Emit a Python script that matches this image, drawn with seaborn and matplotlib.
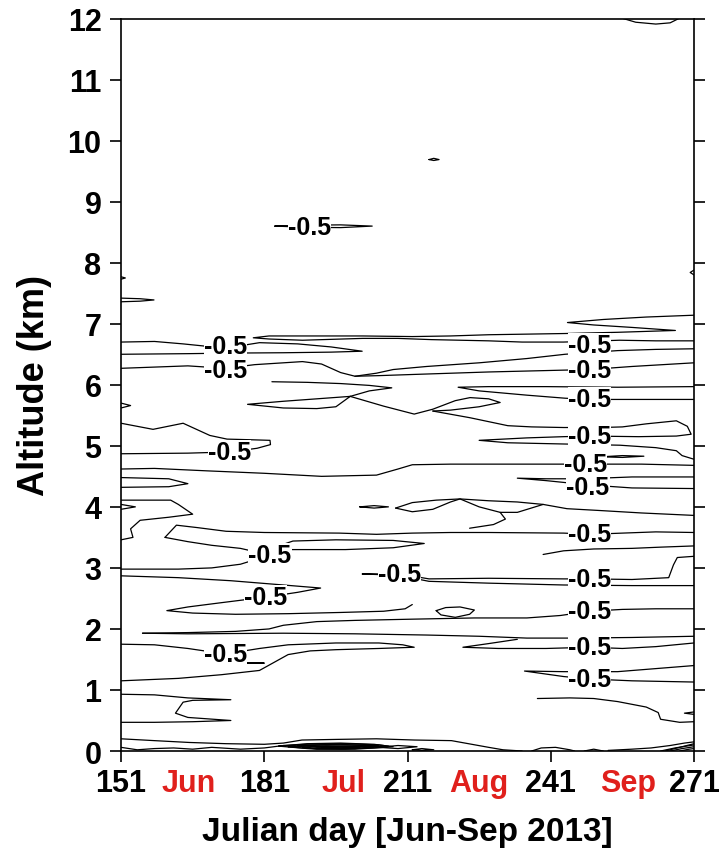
import matplotlib
matplotlib.use("Agg")
import matplotlib.pyplot as plt
import pandas as pd
import seaborn as sns

# contour lines of the -0.5 level as (julian day, altitude km)
top_cap = [(256.2, 12.0), (258.8, 11.94), (263.0, 11.91), (266.0, 11.93), (267.8, 12.0)]
dot_97 = [(215.5, 9.69), (216.5, 9.71), (217.6, 9.69), (216.5, 9.675), (215.5, 9.69)]
lens_86 = [(183.2, 8.60), (190, 8.615), (197, 8.62), (203.6, 8.60), (197, 8.575), (190, 8.58), (183.2, 8.60)]
nub_left_77 = [(151, 7.77), (151.9, 7.75), (151, 7.73)]
nub_right_78 = [(271, 7.88), (270.2, 7.84), (271, 7.80)]
lens_left_74 = [(151, 7.42), (155, 7.41), (157.9, 7.39), (155, 7.37), (151, 7.36)]

band_68 = [(271, 6.72), (263, 6.72), (255.4, 6.73), (243.7, 6.70), (235, 6.70), (228, 6.72), (216, 6.74),
           (209, 6.76), (201.6, 6.76), (189, 6.73), (182, 6.75), (178.7, 6.77), (182, 6.80), (190, 6.80),
           (201.6, 6.80), (212, 6.79), (220, 6.80), (228, 6.82), (236, 6.83), (244, 6.84), (255, 6.86),
           (267.1, 6.89), (258, 6.94), (250, 6.98), (244.5, 7.02), (252, 7.07), (261, 7.11), (271, 7.14)]
band_66 = [(151, 6.70), (158, 6.71), (164, 6.67), (172.8, 6.60), (180, 6.69), (188, 6.67), (195, 6.62),
           (201.5, 6.55), (195, 6.535), (185, 6.525), (175, 6.52), (165, 6.51), (151, 6.50)]
line_63 = [(151, 6.27), (158, 6.29), (165, 6.31), (172.8, 6.27), (179, 6.33), (189, 6.38), (193, 6.34),
           (197, 6.20), (200, 6.14), (204.5, 6.19), (208, 6.25), (215, 6.30), (226, 6.36), (236, 6.43),
           (244, 6.50), (255, 6.56), (263, 6.58), (271, 6.59)]
line_62 = [(200, 6.14), (205, 6.15), (212.5, 6.17), (228, 6.21), (243.7, 6.24), (249.2, 6.25), (258, 6.30), (271, 6.36)]

m_top = [(199, 5.81), (203, 5.90), (207.7, 5.95), (203, 5.99), (197, 6.02), (190, 6.04), (182.6, 6.05)]
m_left = [(199, 5.81), (192, 5.77), (185, 5.73), (177.5, 5.68), (185, 5.62), (192, 5.61), (196, 5.64), (199, 5.81)]
m_right = [(199, 5.81), (206, 5.65), (212.4, 5.52), (216.3, 5.60), (221, 5.74), (224.1, 5.79), (228, 5.77),
           (230.4, 5.71), (226, 5.64), (220, 5.585), (216.3, 5.57)]
line_e = [(216.3, 5.57), (224.1, 5.46), (232, 5.33), (237, 5.31), (243.7, 5.30), (251.6, 5.30), (256, 5.31),
          (261, 5.36), (267.3, 5.41), (269.6, 5.32), (270.4, 5.19), (267.3, 5.16), (259.4, 5.15),
          (249.2, 5.16), (243.7, 5.15), (236, 5.13), (226, 5.09), (232, 5.05), (243.7, 5.03), (255.5, 5.01),
          (263, 4.97), (267.3, 4.92), (268.5, 4.84), (271, 4.78)]
line_60 = [(271, 5.97), (255, 5.96), (240, 5.97), (228, 5.97), (221.6, 5.96), (226, 5.90), (236, 5.83),
           (244, 5.78), (249.2, 5.76), (258, 5.76), (271, 5.76)]

line_a = [(151, 5.37), (157.7, 5.27), (164, 5.37), (169.6, 5.17), (173.2, 5.11), (178, 5.10), (182.2, 5.09),
          (182.3, 5.02), (179.5, 4.96), (173.8, 4.90), (165, 4.88), (151, 4.87)]
nub_57 = [(151, 5.70), (153, 5.66), (151, 5.62)]
line_b = [(151, 4.62), (158, 4.63), (169, 4.59), (181, 4.55), (193, 4.50), (204.5, 4.52), (209, 4.62),
          (212, 4.69), (220, 4.70), (236, 4.70), (248.2, 4.70), (260, 4.70), (271, 4.68)]
lens_c = [(151, 4.48), (161, 4.46), (165, 4.38), (161, 4.33), (151, 4.32)]
lens_48 = [(251.6, 4.82), (256, 4.84), (260.5, 4.83), (256, 4.81), (251.6, 4.82)]
band_f = [(271, 4.49), (258, 4.49), (248, 4.46), (240, 4.46), (234, 4.47), (240, 4.43), (248.8, 4.36),
          (258, 4.31), (271, 4.30)]

line_d = [(151, 4.11), (158, 4.11), (161.4, 4.11), (163, 4.04), (166, 3.88), (161, 3.83), (155, 3.78),
          (153, 3.64), (153.5, 3.50), (151, 3.46)]
nub_40 = [(151, 4.04), (154, 4.00), (151, 3.96)]
lens_40 = [(201, 4.00), (204, 4.02), (207, 4.00), (204, 3.98), (201, 4.00)]
line_39 = [(208.5, 3.98), (212, 3.92), (216.3, 3.96), (220, 4.08), (222, 4.13), (226, 4.00), (230.4, 3.91),
           (234, 3.91), (239.4, 4.04), (244.4, 3.97), (251.3, 3.94), (260, 3.90), (271, 3.86)]
line_41 = [(208.5, 3.98), (212, 4.07), (217, 4.11), (222, 4.13), (228, 4.10), (234, 4.08), (239.4, 4.04)]
line_37 = [(230.4, 3.91), (231.5, 3.80), (229, 3.71), (224, 3.65)]
line_36 = [(160.2, 3.50), (162.6, 3.70), (167, 3.66), (173, 3.60), (181, 3.58), (196.7, 3.57), (204.5, 3.55),
           (212, 3.57), (220, 3.58), (228, 3.58), (243.7, 3.57), (249.2, 3.55), (256, 3.57), (263, 3.59),
           (271, 3.58)]
line_32 = [(160.2, 3.50), (165, 3.43), (170, 3.37), (176, 3.32), (182.2, 3.21), (176, 3.06), (170, 3.00),
           (163, 2.98), (151, 2.98)]
lens_34 = [(184, 3.30), (198, 3.30), (208, 3.33), (214.5, 3.40), (208, 3.45), (196, 3.46), (187, 3.44),
           (184, 3.36), (184, 3.30)]
line_33 = [(239.4, 3.22), (243.7, 3.28), (250, 3.31), (258, 3.32), (264, 3.34), (271, 3.36)]
band_28 = [(271, 3.19), (267.5, 3.17), (266.7, 3.05), (265.7, 2.84), (258, 2.81), (249.2, 2.82),
           (243.7, 2.82), (228, 2.83), (215.5, 2.82), (209.4, 2.90), (201.5, 2.90), (209, 2.88),
           (215.5, 2.78), (228, 2.75), (243.7, 2.72), (258, 2.71), (271, 2.71)]
lens_26 = [(151, 2.87), (163, 2.84), (174, 2.79), (185, 2.72), (192.8, 2.67), (188, 2.60), (181.2, 2.52),
           (172, 2.43), (165, 2.36), (160.6, 2.30), (166, 2.26), (175, 2.24), (186, 2.25), (197, 2.27),
           (206, 2.29), (210.5, 2.33), (212, 2.40)]
lens_23 = [(217, 2.30), (219, 2.35), (222, 2.36), (225, 2.31), (224, 2.24), (221, 2.19), (218, 2.23), (217, 2.30)]

line_21 = [(155.5, 1.93), (165, 1.94), (175, 1.96), (182, 2.00), (185, 2.06), (192, 2.12), (200, 2.14),
           (212, 2.16), (225, 2.18), (236, 2.18), (243, 2.22), (249.2, 2.29), (256, 2.32), (263, 2.33), (271, 2.33)]
line_19 = [(155.5, 1.93), (165, 1.92), (175, 1.925), (185, 1.93), (200, 1.92), (215, 1.90), (226, 1.88),
           (236, 1.85), (246, 1.85), (258, 1.86), (271, 1.88)]
line_17 = [(234, 1.83), (228, 1.76), (222.6, 1.70), (230, 1.68), (240, 1.68), (249.2, 1.70), (256, 1.68),
           (263, 1.71), (271, 1.77)]
line_16 = [(151, 1.75), (158, 1.74), (165, 1.68), (172.8, 1.59), (180, 1.68), (186, 1.74), (196, 1.77),
           (205, 1.77), (210, 1.74), (212.4, 1.70), (205, 1.68), (196, 1.66), (190.6, 1.64), (186, 1.58),
           (183, 1.45), (180, 1.32), (172, 1.25), (163, 1.19), (151, 1.15)]
lens_14 = [(169.7, 1.455), (175, 1.45), (181, 1.44), (175, 1.435), (169.7, 1.455)]
band_12 = [(271, 1.40), (263, 1.35), (255, 1.30), (243.7, 1.30), (235.5, 1.31), (243.7, 1.22), (249.2, 1.18),
           (258, 1.15), (271, 1.13)]
line_08 = [(238.2, 0.86), (245, 0.87), (250, 0.86), (255, 0.81), (261, 0.72), (263.5, 0.63), (264, 0.52),
           (268, 0.47), (271, 0.48)]
nub_06 = [(271, 0.64), (269, 0.62), (271, 0.60)]
line_left_07 = [(151, 0.93), (158, 0.92), (165, 0.87), (174, 0.84), (166, 0.83), (164, 0.80), (162.4, 0.62),
                (165, 0.55), (174, 0.50), (166, 0.48), (158, 0.47), (151, 0.47)]

line_02 = [(151, 0.20), (158, 0.17), (165.3, 0.14), (173, 0.12), (181, 0.11), (185, 0.13), (188.9, 0.18),
           (196, 0.19), (204.5, 0.20), (212.4, 0.18), (220.2, 0.17), (228, 0.06), (231, 0.02), (235, 0.0)]
wave_00 = [(151, 0.06), (154.4, 0.02), (158, 0.04), (162, 0.05), (166, 0.03), (170, 0.06), (176, 0.03),
           (181, 0.05), (184, 0.08)]
blk_1 = [(184, 0.08), (190, 0.12), (197, 0.13), (204, 0.11), (208, 0.07), (204, 0.05), (197, 0.04), (190, 0.04), (184, 0.08)]
blk_2 = [(186, 0.07), (191, 0.10), (197, 0.11), (202, 0.09), (206, 0.06), (200, 0.03), (192, 0.03), (186, 0.07)]
blk_3 = [(189, 0.06), (194, 0.085), (200, 0.08), (204, 0.06), (198, 0.03), (192, 0.035), (189, 0.06)]
blk_4 = [(193, 0.055), (197, 0.07), (201, 0.06), (197, 0.04), (193, 0.055)]
blk_5 = [(185, 0.09), (191, 0.115), (198, 0.12), (205, 0.10), (207, 0.08), (200, 0.06), (192, 0.06), (185, 0.09)]
blk_6 = [(188, 0.09), (195, 0.10), (202, 0.095), (205, 0.08), (198, 0.07), (191, 0.075), (188, 0.09)]
lens_01a = [(205, 0.06), (209, 0.09), (213, 0.07), (209, 0.04), (205, 0.06)]
lens_01b = [(212, 0.02), (214, 0.04), (216.5, 0.02), (214, 0.01), (212, 0.02)]
wave_br1 = [(237, 0.0), (239, 0.05), (242, 0.06), (245, 0.02), (246, 0.0)]
wave_br2 = [(248, 0.0), (250, 0.03), (252, 0.0)]
wave_br3 = [(253, 0.01), (258, 0.03), (262, 0.05), (266, 0.09), (269, 0.13), (271, 0.15)]
corner_1 = [(264, 0.0), (267, 0.05), (271, 0.10)]
corner_2 = [(266, 0.0), (268.5, 0.04), (271, 0.07)]
corner_3 = [(268, 0.0), (270, 0.03), (271, 0.04)]
corner_4 = [(265, 0.0), (268, 0.06), (271, 0.12)]

# contour label positions
label_days = [190.5, 172.8, 172.8, 173.8, 182.2, 181.2, 172.8, 209.4, 249.2, 249.2, 249.2, 249.2,
              248.2, 248.8, 249.2, 249.2, 249.2, 249.2, 249.2]
label_kms = [8.59, 6.63, 6.25, 4.90, 3.21, 2.52, 1.59, 2.90, 6.66, 6.25, 5.76, 5.16,
             4.71, 4.33, 3.55, 2.82, 2.29, 1.70, 1.18]

x_ticks = [151, 181, 211, 241, 271]
month_days = [165.1, 197.5, 226, 257.2]
month_names = ["Jun", "Jul", "Aug", "Sep"]

contours = {
    "top_cap": top_cap, "dot_97": dot_97, "lens_86": lens_86, "nub_left_77": nub_left_77,
    "nub_right_78": nub_right_78, "lens_left_74": lens_left_74, "band_68": band_68, "band_66": band_66,
    "line_63": line_63, "line_62": line_62, "m_top": m_top, "m_left": m_left, "m_right": m_right,
    "line_e": line_e, "line_60": line_60, "line_a": line_a, "nub_57": nub_57, "line_b": line_b,
    "lens_c": lens_c, "lens_48": lens_48, "band_f": band_f, "line_d": line_d, "nub_40": nub_40,
    "lens_40": lens_40, "line_39": line_39, "line_41": line_41, "line_37": line_37, "line_36": line_36,
    "line_32": line_32, "lens_34": lens_34, "line_33": line_33, "band_28": band_28, "lens_26": lens_26,
    "lens_23": lens_23, "line_21": line_21, "line_19": line_19, "line_17": line_17, "line_16": line_16,
    "lens_14": lens_14, "band_12": band_12, "line_08": line_08, "nub_06": nub_06,
    "line_left_07": line_left_07, "line_02": line_02, "wave_00": wave_00, "blk_1": blk_1, "blk_2": blk_2,
    "blk_3": blk_3, "blk_4": blk_4, "blk_5": blk_5, "blk_6": blk_6, "lens_01a": lens_01a,
    "lens_01b": lens_01b, "wave_br1": wave_br1, "wave_br2": wave_br2, "wave_br3": wave_br3,
    "corner_1": corner_1, "corner_2": corner_2, "corner_3": corner_3, "corner_4": corner_4,
}

rows = []
for name, pts in contours.items():
    for d, k in pts:
        rows.append((name, d, k))
df = pd.DataFrame(rows, columns=["line", "day", "km"])

sns.set_theme(style="ticks")
plt.rcParams["font.family"] = ["Liberation Sans", "DejaVu Sans"]
plt.rcParams["font.weight"] = "bold"
plt.rcParams["axes.labelweight"] = "bold"
plt.rcParams["text.color"] = "black"
plt.rcParams["axes.labelcolor"] = "black"

fig = plt.figure(figsize=(7.23, 8.62), dpi=100)
ax = fig.add_axes([0.1674, 0.1276, 0.7925, 0.8497])

sns.lineplot(data=df, x="day", y="km", units="line", estimator=None, sort=False,
             color="black", linewidth=0.9, legend=False, ax=ax)

for d, k in zip(label_days, label_kms):
    ax.text(d, k, "-0.5", ha="center", va="center", fontsize=18, fontweight="bold", color="black",
            bbox=dict(boxstyle="square,pad=0.0", fc="white", ec="none"), zorder=5)

ax.set_xlim(151, 271)
ax.set_ylim(0, 12)
ax.set_xticks(x_ticks)
ax.set_yticks(range(13))
ax.tick_params(axis="both", direction="out", length=8, width=1.2, labelsize=22, colors="black")
ax.tick_params(axis="y", right=True, labelright=False, pad=6)
ax.tick_params(axis="x", top=False, pad=4)
for s in ax.spines.values():
    s.set_visible(True)
    s.set_linewidth(1.2)
    s.set_color("black")

for d, name in zip(month_days, month_names):
    ax.annotate(name, xy=(d, 0), xycoords=("data", "axes fraction"), xytext=(0, -12.5),
                textcoords="offset points", ha="center", va="top", fontsize=22,
                fontweight="bold", color="#e0201c")

ax.set_xlabel("Julian day [Jun-Sep 2013]", fontsize=24, fontweight="bold", labelpad=13)
ax.set_ylabel("Altitude (km)", fontsize=26, fontweight="bold", labelpad=11)

fig.savefig("out.png", dpi=100)
